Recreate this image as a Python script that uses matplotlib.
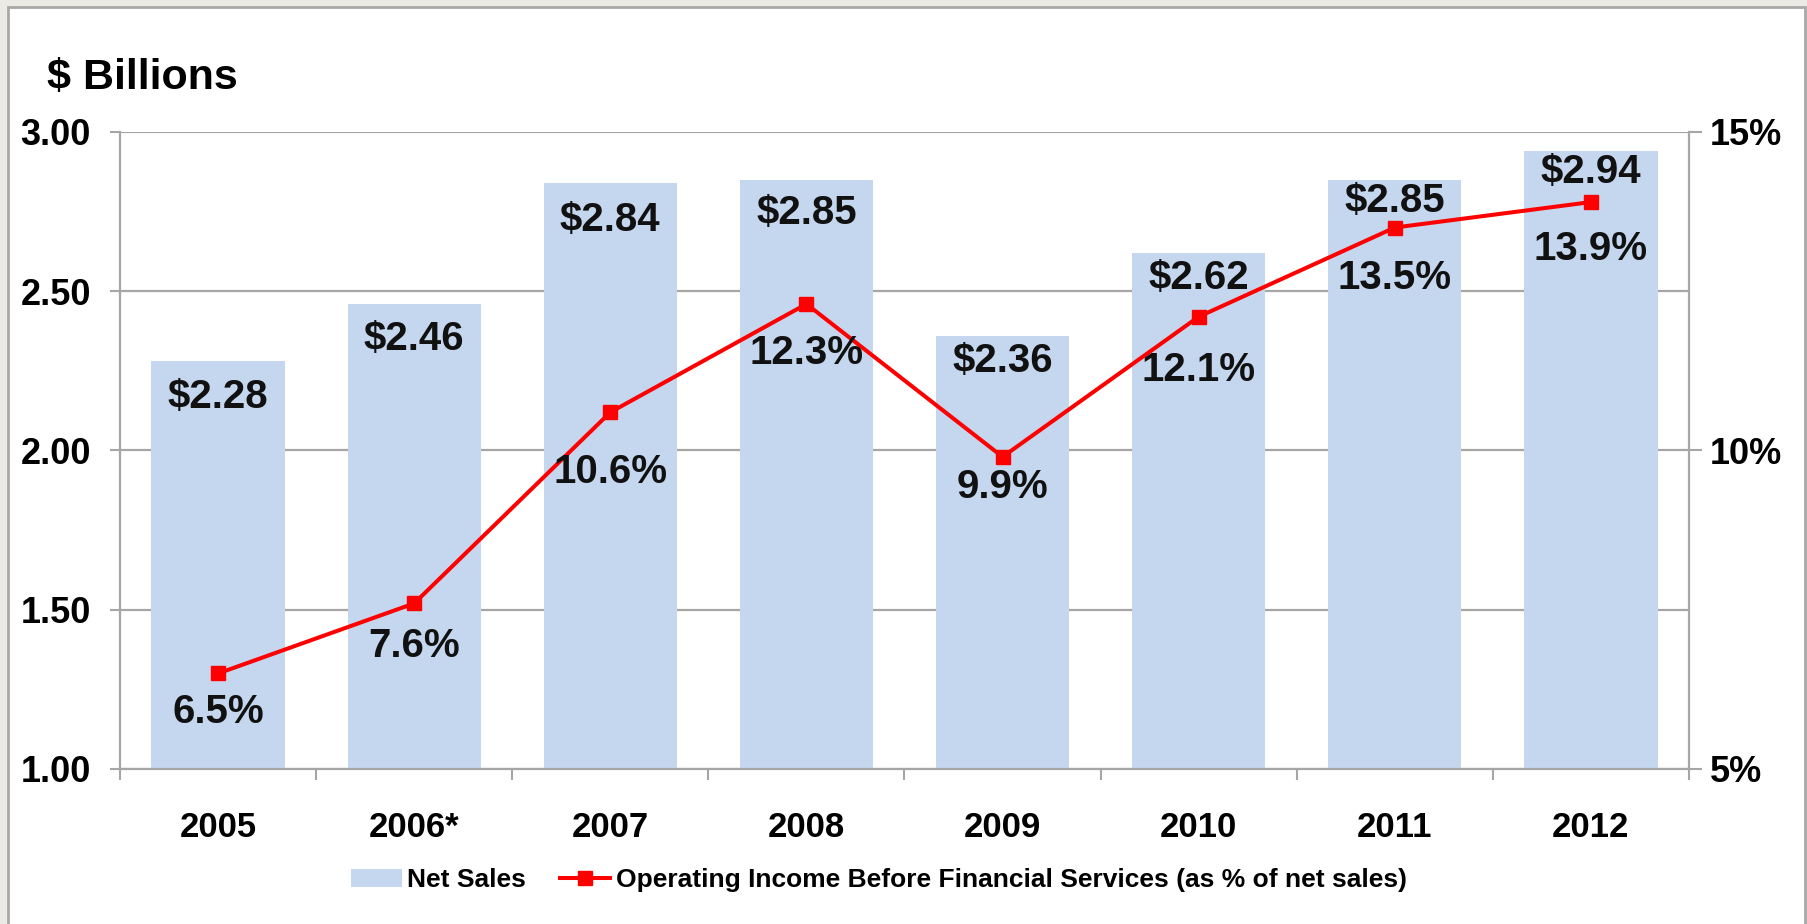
import matplotlib
matplotlib.use('Agg')
import matplotlib.pyplot as plt
from matplotlib.patches import Rectangle
from matplotlib.font_manager import FontProperties
import numpy as np

plt.rcParams['font.family'] = ['Liberation Sans', 'DejaVu Sans']

# net sales ($ billions) and operating margin (% of net sales) by year
years = ['2005', '2006*', '2007', '2008', '2009', '2010', '2011', '2012']
net_sales = [2.28, 2.46, 2.84, 2.85, 2.36, 2.62, 2.85, 2.94]
op_margin = [6.5, 7.6, 10.6, 12.3, 9.9, 12.1, 13.5, 13.9]

# how far below the bar top / marker each label sits (points)
sales_label_dy = [26, 25, 27, 24, 18, 18, 15, 15]
margin_label_dy = [28, 31, 43, 35, 22, 38, 36, 34]

bar_color = '#C5D7EE'
line_color = '#FF0000'
grid_color = '#A6A6A6'

fig = plt.figure(figsize=(18.08, 9.24), dpi=100, facecolor='#ECEAE4')

# white panel with a thin gray border, kept behind the axes
fig.patches.append(Rectangle((8 / 1808, -0.01), 1797 / 1808, 1 - 7 / 924 + 0.01,
                             transform=fig.transFigure, facecolor='white',
                             edgecolor='#A8A8A8', linewidth=2, zorder=-10))

ax = fig.add_axes([120 / 1808, 1 - 769 / 924, (1689 - 120) / 1808, (769 - 132) / 924])
ax.set_facecolor('none')
x = np.arange(len(years))

ax.bar(x, net_sales, width=0.68, color=bar_color, zorder=2)
ax.set_ylim(1.0, 3.0)
ax.set_xlim(-0.5, len(years) - 0.5)
ax.set_yticks([1.0, 1.5, 2.0, 2.5, 3.0])
ax.set_yticklabels(['%.2f' % v for v in [1.0, 1.5, 2.0, 2.5, 3.0]])
ax.yaxis.grid(True, color=grid_color, linewidth=1.6)
ax.set_axisbelow(True)

ax.set_xticks(x)
ax.set_xticklabels(years)
ax.set_xticks(np.arange(-0.5, len(years)), minor=True)
ax.tick_params(axis='x', which='major', length=0, pad=30, labelsize=25)
ax.tick_params(axis='x', which='minor', length=8, width=1.5, color=grid_color, direction='out')
ax.tick_params(axis='y', length=7, width=1.5, color=grid_color, pad=14, labelsize=26)
for lab in ax.get_xticklabels() + ax.get_yticklabels():
    lab.set_fontweight('bold')

for s in ['left', 'right', 'bottom']:
    ax.spines[s].set_color(grid_color)
    ax.spines[s].set_linewidth(1.6)
ax.spines['top'].set_visible(False)

for xi, v, dy in zip(x, net_sales, sales_label_dy):
    ax.annotate('$%.2f' % v, (xi, v), xytext=(0, -dy), textcoords='offset points',
                ha='center', va='center', fontsize=29, fontweight='bold',
                color='#111111', zorder=5)

# operating margin on the right-hand percent axis
ax2 = ax.twinx()
ax2.plot(x, op_margin, color=line_color, linewidth=2.9, marker='s',
         markersize=10.5, zorder=4)
ax2.set_ylim(5, 15)
ax2.set_yticks([5, 10, 15])
ax2.set_yticklabels(['5%', '10%', '15%'])
ax2.tick_params(axis='y', length=9, width=1.5, color=grid_color, pad=6, labelsize=26)
for lab in ax2.get_yticklabels():
    lab.set_fontweight('bold')
for s in ax2.spines.values():
    s.set_visible(False)

for xi, v, dy in zip(x, op_margin, margin_label_dy):
    ax2.annotate('%.1f%%' % v, (xi, v), xytext=(0, -dy), textcoords='offset points',
                 ha='center', va='center', fontsize=29, fontweight='bold',
                 color='#111111', zorder=5)

fig.text(47 / 1808, 1 - 89 / 924, '$ Billions', fontsize=31, fontweight='bold',
         ha='left', va='baseline')

# legend along the bottom
h_bar = Rectangle((0, 0), 1, 1, facecolor=bar_color)
h_line, = ax2.plot([], [], color=line_color, linewidth=2.9, marker='s', markersize=10.5)
leg_font = FontProperties(family=['Liberation Sans Narrow', 'Liberation Sans'],
                          weight='bold', size=19)
fig.legend([h_bar, h_line],
           ['Net Sales', 'Operating Income Before Financial Services (as % of net sales)'],
           loc='center', bbox_to_anchor=(879 / 1808, 1 - 880 / 924), ncol=2,
           frameon=False, prop=leg_font, handlelength=1.9, handletextpad=0.2,
           columnspacing=1.3)

fig.savefig('out.png', dpi=100, facecolor=fig.get_facecolor())
